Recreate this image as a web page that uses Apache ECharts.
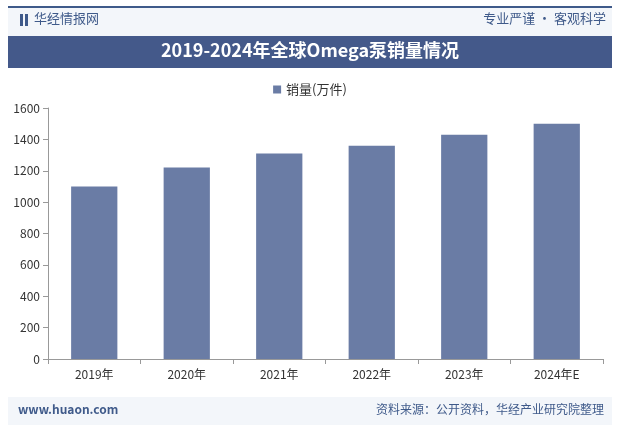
<!DOCTYPE html>
<html><head><meta charset="utf-8">
<script src="https://cdn.jsdelivr.net/npm/echarts@6/dist/echarts.min.js"></script>
<style>body{margin:0;background:#fff}#c{width:620px;height:432px}</style>
</head><body><div id="c"></div>
<script>
const categories = ['2019年', '2020年', '2021年', '2022年', '2023年', '2024年E'];
const sales = [1100, 1220, 1310, 1360, 1430, 1500];
const seriesName = '销量(万件)';
const titleText = '2019-2024年全球Omega泵销量情况';

const chart = echarts.init(document.getElementById('c'));
const font = '"Noto Sans CJK SC", sans-serif';
chart.setOption({
  animation: false,
  textStyle: { fontFamily: font },
  graphic: [
    { type: 'rect', shape: { x: 8, y: 7, width: 604, height: 29 }, style: { fill: '#f3f6fa' } },
    { type: 'rect', shape: { x: 8, y: 6, width: 604, height: 2 }, style: { fill: '#3f5a8a' } },
    { type: 'rect', shape: { x: 8, y: 36, width: 604, height: 32 }, style: { fill: '#44598a' } },
    { type: 'text', left: 'center', top: 41, style: { text: titleText, fill: '#fff', font: 'bold 18px "Noto Sans CJK SC"' } },
    { type: 'rect', shape: { x: 20, y: 14, width: 3, height: 12 }, style: { fill: '#3f5a8a' } },
    { type: 'rect', shape: { x: 25, y: 14, width: 3, height: 12 }, style: { fill: '#3f5a8a' } },
    { type: 'text', left: 34, top: 12, style: { text: '华经情报网', fill: '#3f5a8a', font: '13px "Noto Sans CJK SC"' } },
    { type: 'text', right: 14, top: 12, style: { text: '专业严谨 • 客观科学', fill: '#3f5a8a', font: '13px "Noto Sans CJK SC"' } },
    { type: 'rect', shape: { x: 8, y: 397, width: 604, height: 28 }, style: { fill: '#f3f6fa' } },
    { type: 'text', left: 18, top: 403, style: { text: 'www.huaon.com', fill: '#3f5a8a', font: 'bold 12px "Noto Sans CJK SC"' } },
    { type: 'text', right: 16, top: 403, style: { text: '资料来源：公开资料，华经产业研究院整理', fill: '#3f5a8a', font: '12px "Noto Sans CJK SC"' } }
  ],
  legend: {
    top: 78, left: 'center', icon: 'rect', itemWidth: 8, itemHeight: 8, itemGap: 4,
    textStyle: { fontSize: 13, color: '#333' }
  },
  grid: { left: 48, right: 17, top: 108, bottom: 73 },
  xAxis: {
    type: 'category', data: categories,
    axisLine: { lineStyle: { color: '#999' } },
    axisTick: { show: true, lineStyle: { color: '#999' } },
    axisLabel: { color: '#333', fontSize: 12, margin: 9 }
  },
  yAxis: {
    type: 'value', min: 0, max: 1600, interval: 200,
    axisLine: { show: true, lineStyle: { color: '#999' } },
    axisTick: { show: true, lineStyle: { color: '#999' } },
    splitLine: { show: false },
    axisLabel: { color: '#333', fontSize: 12, formatter: v => String(v) }
  },
  series: [{
    name: seriesName, type: 'bar', data: sales, barWidth: '50%',
    itemStyle: { color: '#6a7ca5' }
  }]
});
</script></body></html>
